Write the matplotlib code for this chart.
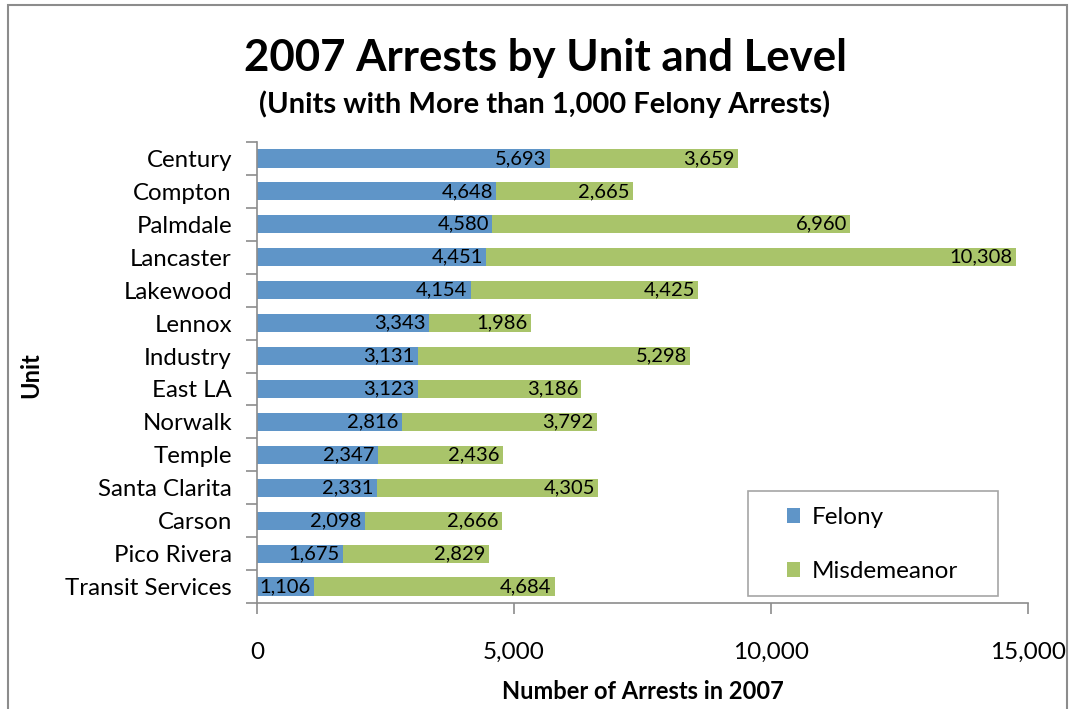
import matplotlib
matplotlib.use("Agg")
import matplotlib.pyplot as plt
from matplotlib.patches import Rectangle
from matplotlib.ticker import FuncFormatter, FixedLocator

plt.rcParams['font.family'] = ['Lato', 'DejaVu Sans']

units = ["Century", "Compton", "Palmdale", "Lancaster", "Lakewood", "Lennox", "Industry",
         "East LA", "Norwalk", "Temple", "Santa Clarita", "Carson", "Pico Rivera", "Transit Services"]
felony = [5693, 4648, 4580, 4451, 4154, 3343, 3131, 3123, 2816, 2347, 2331, 2098, 1675, 1106]
misdemeanor = [3659, 2665, 6960, 10308, 4425, 1986, 5298, 3186, 3792, 2436, 4305, 2666, 2829, 4684]
xticks = [0, 5000, 10000, 15000]

blue = "#5f95c8"
green = "#a9c46a"
gray = "#8c8c8c"

W, H = 1070, 709
fig = plt.figure(figsize=(W / 100, H / 100), dpi=100)
ax = fig.add_axes([257 / W, 1 - 603 / H, (1028 - 257) / W, (603 - 142) / H])

n = len(units)
ypos = list(range(n))
bh = 0.55
b1 = ax.barh(ypos, felony, height=bh, color=blue, label="Felony")
b2 = ax.barh(ypos, misdemeanor, left=felony, height=bh, color=green, label="Misdemeanor")

for i in range(n):
    f = felony[i]
    m = misdemeanor[i]
    ax.text(f - 60, i, f"{f:,}", ha="right", va="center", fontsize=14.5, color="black")
    ax.text(f + m - 60, i, f"{m:,}", ha="right", va="center", fontsize=14.5, color="black")

ax.set_ylim(n - 0.5, -0.5)
ax.set_xlim(0, 15000)
ax.set_yticks(ypos)
ax.set_yticklabels(units, fontsize=17.3)
ax.yaxis.set_minor_locator(FixedLocator([i - 0.5 for i in range(n + 1)]))
ax.tick_params(axis="y", which="major", length=0, pad=18)
ax.tick_params(axis="y", which="minor", length=8, color=gray, width=1.2)

ax.xaxis.set_major_locator(FixedLocator(xticks))
ax.xaxis.set_major_formatter(FuncFormatter(lambda v, p: f"{int(v):,}"))
ax.tick_params(axis="x", length=8, color=gray, width=1.2, labelsize=17.5, pad=20)

for s in ["top", "right"]:
    ax.spines[s].set_visible(False)
for s in ["left", "bottom"]:
    ax.spines[s].set_color(gray)
    ax.spines[s].set_linewidth(1.2)

ax.set_xlabel("Number of Arrests in 2007", fontsize=17, fontweight="bold", labelpad=12)
fig.text(31 / W, 1 - 375 / H, "Unit", rotation=90, ha="center", va="center",
         fontsize=17, fontweight="bold")

fig.text(545 / W, 1 - 58 / H, "2007 Arrests by Unit and Level", ha="center", va="center",
         fontsize=31.5, fontweight="bold")
fig.text(545 / W, 1 - 104 / H, "(Units with More than 1,000 Felony Arrests)", ha="center",
         va="center", fontsize=21, fontweight="bold")

# legend frame
fig.patches.append(Rectangle((748 / W, 1 - 596 / H), (998 - 748) / W, (596 - 491) / H,
                             transform=fig.transFigure, fill=True, facecolor="white",
                             edgecolor="#a6a6a6", linewidth=1.2, zorder=5))
leg = fig.legend(handles=[b1, b2], loc="center left",
                 bbox_to_anchor=(787 / W, 1 - 544.5 / H),
                 fontsize=17.5, frameon=False, borderaxespad=0, borderpad=0,
                 labelspacing=1.35, handlelength=0.55, handleheight=0.55, handletextpad=0.45)
leg.set_zorder(6)

fig.patches.append(Rectangle((8 / W, -0.05), (1067 - 8) / W, 1.05 - 5 / H,
                             transform=fig.transFigure, fill=False, edgecolor=gray,
                             linewidth=1.5))

fig.savefig("out.png", dpi=100, facecolor="white")
